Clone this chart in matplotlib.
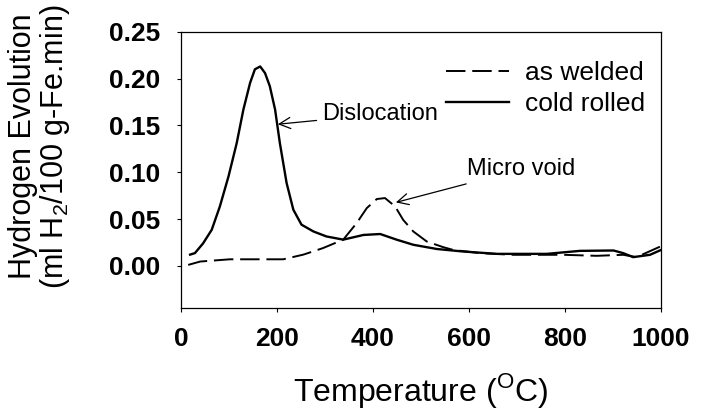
import matplotlib
matplotlib.use("Agg")
import matplotlib.pyplot as plt

# temperature (degC) / hydrogen evolution
cold_T = [19, 29, 46, 64, 81, 99, 116, 130, 144, 154, 165, 175, 185, 196,
          206, 220, 234, 251, 276, 303, 338, 380, 415, 449, 484, 533, 588,
          658, 762, 831, 901, 921, 942, 977, 1000]
cold_v = [0.012, 0.0136, 0.024, 0.0385, 0.0635, 0.0956, 0.131, 0.167,
          0.1956, 0.210, 0.213, 0.206, 0.192, 0.167, 0.131, 0.0885, 0.060,
          0.044, 0.0367, 0.0314, 0.028, 0.033, 0.034, 0.028, 0.0225, 0.018,
          0.0153, 0.0128, 0.0128, 0.016, 0.0164, 0.0136, 0.0093, 0.0118,
          0.017]

weld_T = [15, 40, 102, 172, 213, 255, 296, 338, 366, 387, 408, 425, 446,
          463, 484, 512, 546, 567, 623, 692, 796, 866, 921, 949, 1000]
weld_v = [0.001, 0.0046, 0.007, 0.007, 0.007, 0.012, 0.019, 0.028, 0.0457,
          0.0617, 0.0714, 0.0724, 0.0635, 0.049, 0.0367, 0.026, 0.020,
          0.017, 0.0136, 0.0118, 0.0118, 0.0107, 0.0118, 0.0093, 0.021]

x_ticks = [0, 200, 400, 600, 800, 1000]
y_ticks = [0.00, 0.05, 0.10, 0.15, 0.20, 0.25]

plt.rcParams["font.family"] = ["Liberation Sans", "DejaVu Sans"]
plt.rcParams["mathtext.fontset"] = "custom"
plt.rcParams["mathtext.rm"] = "Liberation Sans"

fig = plt.figure(figsize=(7.07, 4.19), dpi=100)
ax = fig.add_axes([0.256, 0.265, 0.679, 0.659])

dash, = ax.plot(weld_T, weld_v, color="black", lw=1.4, label="as welded")
dash.set_dashes((10, 3.5))
ax.plot(cold_T, cold_v, color="black", lw=1.7, label="cold rolled")

ax.set_xlim(0, 1000)
ax.set_ylim(-0.045, 0.25)
ax.set_xticks(x_ticks)
ax.set_yticks(y_ticks)
ax.set_xticklabels([str(t) for t in x_ticks], fontsize=19, fontweight="bold")
ax.set_yticklabels([f"{t:.2f}" for t in y_ticks], fontsize=19, fontweight="bold")
ax.tick_params(direction="out", length=3, width=0.8)
ax.tick_params(axis="x", pad=11)
ax.tick_params(axis="y", pad=12)
for s in ax.spines.values():
    s.set_linewidth(0.9)

ax.set_xlabel(r"Temperature ($^{\mathrm{O}}$C)", fontsize=23, labelpad=14)
fig.text(0.057, 0.65, "Hydrogen Evolution\n(ml H$_2$/100 g-Fe.min)",
         rotation=90, ha="center", va="center", fontsize=22,
         multialignment="center", linespacing=1.0)

arrow = dict(arrowstyle="->", lw=0.9, color="black", mutation_scale=20)
ax.annotate("Dislocation", xy=(196, 0.151), xytext=(294, 0.162),
            fontsize=17, va="center", arrowprops=arrow)
ax.annotate("Micro void", xy=(442, 0.067), xytext=(596, 0.103),
            fontsize=17, va="center", arrowprops=arrow)

ax.legend(loc="upper right", bbox_to_anchor=(1.0, 0.95), frameon=False,
          fontsize=19, handlelength=2.4, handletextpad=0.6, labelspacing=0.25,
          borderaxespad=0.2)

fig.savefig("out.png", dpi=100)
